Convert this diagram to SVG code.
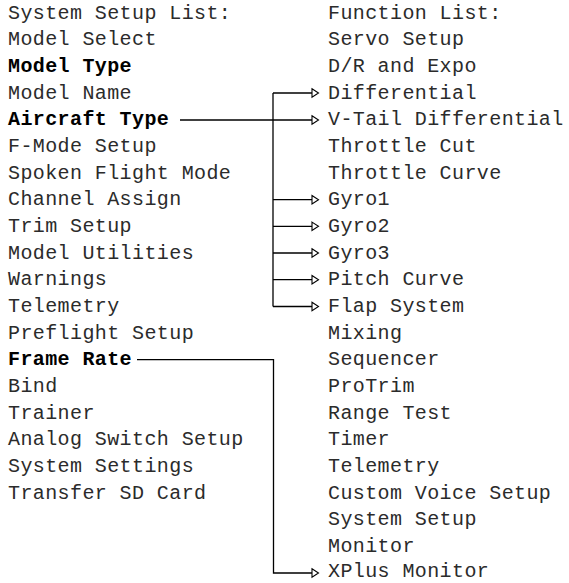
<svg xmlns="http://www.w3.org/2000/svg" width="569" height="583" viewBox="0 0 569 583">
<style>
text{font-family:"Liberation Mono","DejaVu Sans Mono",monospace;font-size:20px;letter-spacing:0.4px;fill:#2b2b2b}
text.b{font-weight:bold;fill:#000}
.c line,.c polyline{stroke:#000;stroke-width:1.3;fill:none}
.arr{fill:#fff;stroke:#000;stroke-width:1.1}
</style>
<defs>
<polygon id="tri" class="arr" points="0,-4.2 6.5,0 0,4.2"/>
</defs>
<rect width="569" height="583" fill="#fff"/>
<g id="left">
<g id="n-system-setup-list"><text x="8" y="18.5">System Setup List:</text></g>
<g id="n-model-select"><text x="8" y="45.2">Model Select</text></g>
<g id="n-model-type"><text class="b" x="8" y="71.8">Model Type</text></g>
<g id="n-model-name"><text x="8" y="98.5">Model Name</text></g>
<g id="n-aircraft-type"><text class="b" x="8" y="125.2">Aircraft Type</text></g>
<g id="n-fmode-setup"><text x="8" y="151.8">F-Mode Setup</text></g>
<g id="n-spoken-flight-mode"><text x="8" y="178.5">Spoken Flight Mode</text></g>
<g id="n-channel-assign"><text x="8" y="205.2">Channel Assign</text></g>
<g id="n-trim-setup"><text x="8" y="231.8">Trim Setup</text></g>
<g id="n-model-utilities"><text x="8" y="258.5">Model Utilities</text></g>
<g id="n-warnings"><text x="8" y="285.2">Warnings</text></g>
<g id="n-telemetry-l"><text x="8" y="311.8">Telemetry</text></g>
<g id="n-preflight-setup"><text x="8" y="338.5">Preflight Setup</text></g>
<g id="n-frame-rate"><text class="b" x="8" y="365.2">Frame Rate</text></g>
<g id="n-bind"><text x="8" y="391.8">Bind</text></g>
<g id="n-trainer"><text x="8" y="418.5">Trainer</text></g>
<g id="n-analog-switch-setup"><text x="8" y="445.2">Analog Switch Setup</text></g>
<g id="n-system-settings"><text x="8" y="471.8">System Settings</text></g>
<g id="n-transfer-sd-card"><text x="8" y="498.5">Transfer SD Card</text></g>
</g>
<g id="right">
<g id="n-function-list"><text x="328" y="18.5">Function List:</text></g>
<g id="n-servo-setup"><text x="328" y="45.2">Servo Setup</text></g>
<g id="n-dr-expo"><text x="328" y="71.8">D/R and Expo</text></g>
<g id="n-differential"><text x="328" y="98.5">Differential</text></g>
<g id="n-vtail-differential"><text x="328" y="125.2">V-Tail Differential</text></g>
<g id="n-throttle-cut"><text x="328" y="151.8">Throttle Cut</text></g>
<g id="n-throttle-curve"><text x="328" y="178.5">Throttle Curve</text></g>
<g id="n-gyro1"><text x="328" y="205.2">Gyro1</text></g>
<g id="n-gyro2"><text x="328" y="231.8">Gyro2</text></g>
<g id="n-gyro3"><text x="328" y="258.5">Gyro3</text></g>
<g id="n-pitch-curve"><text x="328" y="285.2">Pitch Curve</text></g>
<g id="n-flap-system"><text x="328" y="311.8">Flap System</text></g>
<g id="n-mixing"><text x="328" y="338.5">Mixing</text></g>
<g id="n-sequencer"><text x="328" y="365.2">Sequencer</text></g>
<g id="n-protrim"><text x="328" y="391.8">ProTrim</text></g>
<g id="n-range-test"><text x="328" y="418.5">Range Test</text></g>
<g id="n-timer"><text x="328" y="445.2">Timer</text></g>
<g id="n-telemetry-r"><text x="328" y="471.8">Telemetry</text></g>
<g id="n-custom-voice-setup"><text x="328" y="498.5">Custom Voice Setup</text></g>
<g id="n-system-setup"><text x="328" y="525.2">System Setup</text></g>
<g id="n-monitor"><text x="328" y="551.8">Monitor</text></g>
<g id="n-xplus-monitor"><text x="328" y="577">XPlus Monitor</text></g>
</g>
<g id="connectors" class="c">
<line x1="180" y1="120" x2="312" y2="120"/>
<line x1="273" y1="93" x2="273" y2="306.5"/>
<line x1="273" y1="93" x2="312" y2="93"/>
<line x1="273" y1="199.7" x2="312" y2="199.7"/>
<line x1="273" y1="226.3" x2="312" y2="226.3"/>
<line x1="273" y1="253" x2="312" y2="253"/>
<line x1="273" y1="279.7" x2="312" y2="279.7"/>
<line x1="273" y1="306.5" x2="312" y2="306.5"/>
<polyline points="137,359.7 273.5,359.7 273.5,573 312,573"/>
<use href="#tri" x="312" y="93"/>
<use href="#tri" x="312" y="120"/>
<use href="#tri" x="312" y="199.7"/>
<use href="#tri" x="312" y="226.3"/>
<use href="#tri" x="312" y="253"/>
<use href="#tri" x="312" y="279.7"/>
<use href="#tri" x="312" y="306.5"/>
<use href="#tri" x="312" y="573"/>
</g>
</svg>
